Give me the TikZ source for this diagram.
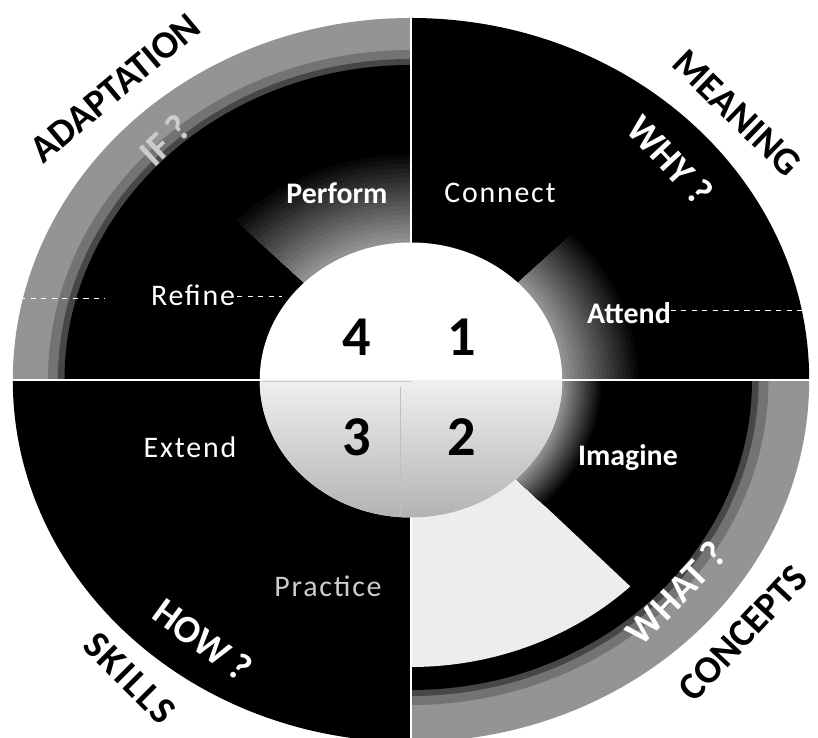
\documentclass[tikz,border=0pt]{standalone}
\usepackage{fontspec}
\setmainfont{Carlito}
\newfontfamily\widefont[LetterSpace=6]{Carlito}
\newfontfamily\spreadfont[LetterSpace=6]{Carlito}
\usepackage{tikz}
\definecolor{wedgewhite}{gray}{0.93}
\tikzset{
  divider/.style={white,line width=1.4pt},
  faintrule/.style={white,dashed,line width=0.5pt},
  steplbl/.style={text=white,font=\fontsize{17}{17}\selectfont\widefont},
  steplblbold/.style={text=white,font=\fontsize{17}{17}\selectfont\bfseries},
  quadnum/.style={font=\fontsize{32}{32}\selectfont\bfseries},
  ringlbl/.style={font=\fontsize{22}{22}\selectfont\bfseries},
  asklbl/.style={text=white,font=\fontsize{22}{22}\selectfont\bfseries}
}

\begin{document}
\begin{tikzpicture}

\useasboundingbox (0,0) rectangle (16.36,14.76);
\fill[white] (0,0) rectangle (16.36,14.76);

\begin{scope}[shift={(8.22,7.16)},xscale=1.1]
  % quadrants 1 and 3
  \fill[black] (0,0) -- (0:7.24) arc[start angle=0,end angle=90,radius=7.24] -- cycle;
  \fill[black] (0,0) -- (180:7.24) arc[start angle=180,end angle=270,radius=7.24] -- cycle;

  % outer bands of quadrants 4 and 2
  \foreach \rr/\ink in {7.24/42,6.6/55,6.42/72,6.3/100}
    \fill[black!\ink] (0,0) -- (90:\rr) arc[start angle=90,end angle=180,radius=\rr] -- cycle;
  \foreach \rr/\ink in {7.24/42,6.5/55,6.32/72,6.2/100}
    \fill[black!\ink] (0,0) -- (270:\rr) arc[start angle=270,end angle=360,radius=\rr] -- cycle;

  % pale wedge
  \fill[wedgewhite] (0,0) -- (270:5.74) arc[start angle=270,end angle=314,radius=5.74] -- cycle;

  % fading towards the core
  \foreach \a/\b/\rmax in {0/45/4.2,90/135/4.6,314/360/3.5}{
    \foreach \k in {0,...,20}{
      \pgfmathsetmacro{\rr}{\rmax-(\rmax-2.75)*\k/20}
      \pgfmathtruncatemacro{\ink}{100-3*\k}
      \fill[black!\ink] (0,0) -- (\a:\rr) arc[start angle=\a,end angle=\b,radius=\rr] -- cycle;
    }
  }

  \draw[divider] (0,-7.3) -- (0,7.3);
  \draw[divider] (-7.3,0) -- (7.3,0);

  % core
  \fill[white] (0,0) circle[radius=2.75];
  \shade[top color=black!6,bottom color=black!30]
    (180:2.75) arc[start angle=180,end angle=360,radius=2.75] -- cycle;
  \draw[black!20,line width=0.4pt] (-2.72,-0.03) -- (0,-0.03);
  \draw[black!25,line width=0.4pt] (-0.2,-0.15) -- (-0.2,-2.7);
\end{scope}

\draw[faintrule] (13.2,8.56) -- (16.1,8.56);
\draw[faintrule] (0.4,8.8) -- (2.1,8.8);
\draw[faintrule] (4.74,8.84) -- (5.64,8.84);

% steps
\node[steplbl]     (n-connect)  at (10.00,10.90) {Connect};
\node[steplblbold] (n-attend)   at (12.58,8.50)  {Attend};
\node[steplblbold] (n-imagine)  at (12.56,5.60)  {Imagine};
\node[steplbl,text=white!80!black] (n-practice) at (6.56,3.04) {Practice};
\node[steplbl]     (n-extend)   at (3.80,5.82)   {Extend};
\node[steplbl]     (n-refine)   at (3.86,8.86)   {Refine};
\node[steplblbold] (n-perform)  at (6.74,10.90)  {Perform};

% quadrant numbers
\node[quadnum] (q-four)  at (7.14,8.02) {4};
\node[quadnum] (q-one)   at (9.24,8.02) {1};
\node[quadnum] (q-three) at (7.14,6.02) {3};
\node[quadnum] (q-two)   at (9.24,6.02) {2};

% questions on the ring
\node[asklbl,rotate=-47]            (a-why)  at (13.40,11.56) {WHY ?};
\node[asklbl,rotate=46]             (a-what) at (13.52,2.90)  {WHAT ?};
\node[asklbl,rotate=-36]            (a-how)  at (4.06,1.96)   {HOW ?};
\node[asklbl,rotate=43,text=white!80!black] (a-if) at (3.30,11.96) {IF ?};

% names round the wheel
\node[ringlbl,rotate=-44] (r-meaning)    at (14.74,12.50) {MEANING};
\node[ringlbl,rotate=47]  (r-concepts)   at (14.86,2.10)  {CONCEPTS};
\node[ringlbl,rotate=-45,font=\fontsize{22}{22}\selectfont\bfseries\spreadfont]
  (r-skills) at (2.60,1.20) {SKILLS};
\node[ringlbl,rotate=40]  (r-adaptation) at (2.30,13.00)  {ADAPTATION};

\end{tikzpicture}
\end{document}
